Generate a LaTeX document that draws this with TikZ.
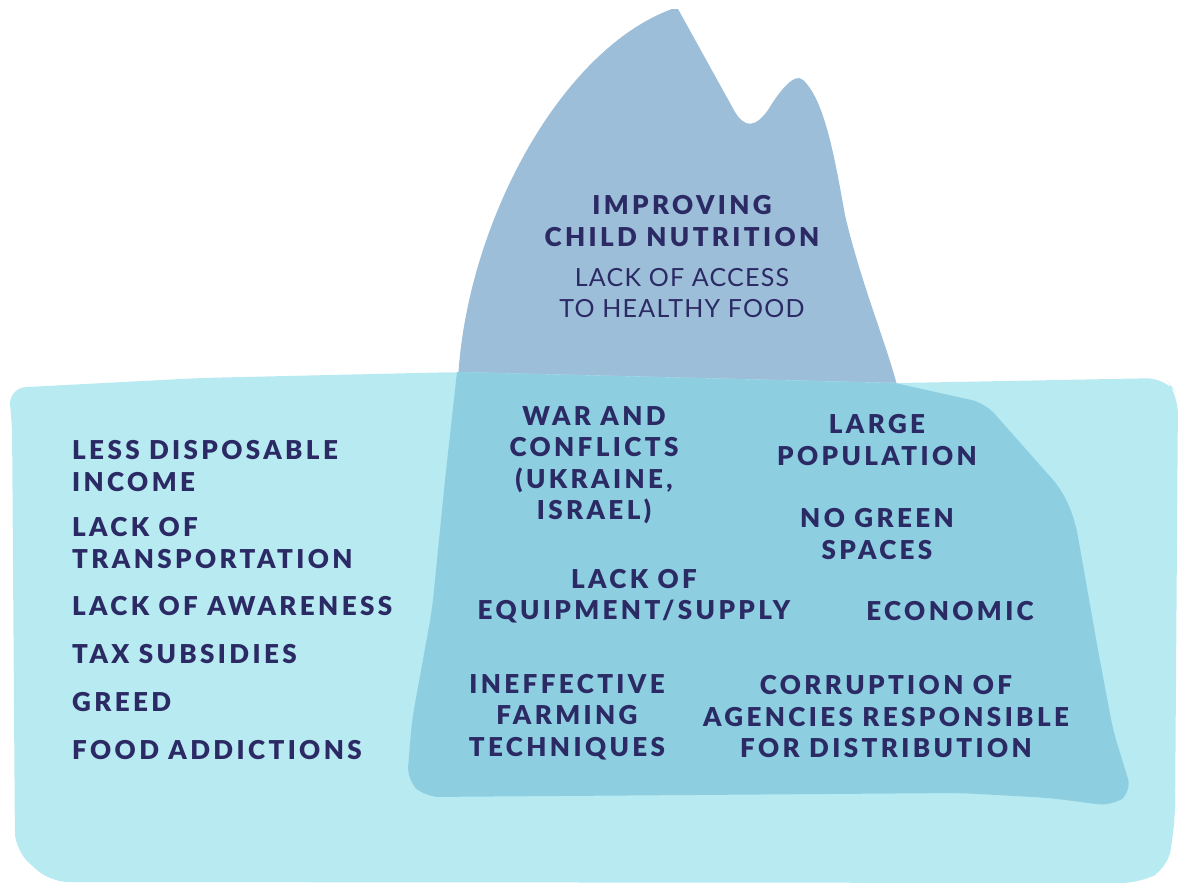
\documentclass[tikz,border=0pt]{standalone}
\usepackage{fontspec}
\setmainfont{Lato}[LetterSpace=5]
\IfFontExistsTF{Lato Black}
  {\newfontfamily\causefont{Lato Black}[LetterSpace=13]}
  {\newfontfamily\causebase{Lato}[LetterSpace=15]\def\causefont{\causebase\bfseries}}
\definecolor{peakblue}{HTML}{9DBED8}
\definecolor{seablue}{HTML}{B8EAF1}
\definecolor{iceblue}{HTML}{8DCFE0}
\definecolor{inkblue}{HTML}{2B2A64}
\tikzset{
  cause/.style={font=\causefont\fontsize{26}{31.5}\selectfont,text=inkblue,align=center,inner sep=0pt},
  listcause/.style={cause,align=left,anchor=west},
  issue/.style={font=\fontsize{25}{31.5}\selectfont,text=inkblue,align=center,inner sep=0pt}
}
\begin{document}
\begin{tikzpicture}[x=1pt,y=-1pt,line join=round]
  \useasboundingbox (0,0) rectangle (1180,884);
  \fill[peakblue] (455,400)--(458,380) .. controls (466,225) and (560,50) .. (672,9)
    --(678,9)--(735,112) .. controls (745,128) and (755,128) .. (768,110)
    .. controls (780,90) and (795,72) .. (803,80)
    .. controls (825,100) and (835,160) .. (845,215)
    .. controls (860,280) and (885,340) .. (897,385)--(900,400)--cycle;
  \fill[seablue,rounded corners=18pt] (8,388)--(200,378)--(460,372)--(900,383)--(1165,378)
    --(1178,395)--(1175,820)--(1168,868)--(1140,883)--(50,882)--(15,850)--(12,420)--cycle;
  \fill[iceblue] (457,372)--(895,383)[rounded corners=14pt]--(985,403)--(1062,490)--(1075,520)
    --(1098,650)--(1113,730)--(1132,792)--(1112,806)--(1050,798)--(960,793)
    --(425,797)--(407,780)--(412,720)--(432,610)[sharp corners]--(445,480)--(457,372)--cycle;
  \node[cause] (goal) at (682,221) {IMPROVING\\CHILD NUTRITION};
  \node[issue] (access) at (682,293) {LACK OF ACCESS\\TO HEALTHY FOOD};
  \node[listcause] (income) at (72,466) {LESS DISPOSABLE\\INCOME};
  \node[listcause] (transport) at (72,543) {LACK OF\\TRANSPORTATION};
  \node[listcause] (awareness) at (72,606) {LACK OF AWARENESS};
  \node[listcause] (tax) at (72,654) {TAX SUBSIDIES};
  \node[listcause] (greed) at (72,702) {GREED};
  \node[listcause] (addiction) at (72,750) {FOOD ADDICTIONS};
  \node[cause] (war) at (594,465) {WAR AND\\CONFLICTS\\(UKRAINE,\\ISRAEL)};
  \node[cause] (population) at (877,440) {LARGE\\POPULATION};
  \node[cause] (green) at (877,534) {NO GREEN\\SPACES};
  \node[cause] (equipment) at (634,596) {LACK OF\\EQUIPMENT/SUPPLY};
  \node[cause] (economic) at (950,611) {ECONOMIC};
  \node[cause] (farming) at (567,717) {INEFFECTIVE\\FARMING\\TECHNIQUES};
  \node[cause] (corruption) at (886,717) {CORRUPTION OF\\AGENCIES RESPONSIBLE\\FOR DISTRIBUTION};
\end{tikzpicture}
\end{document}
